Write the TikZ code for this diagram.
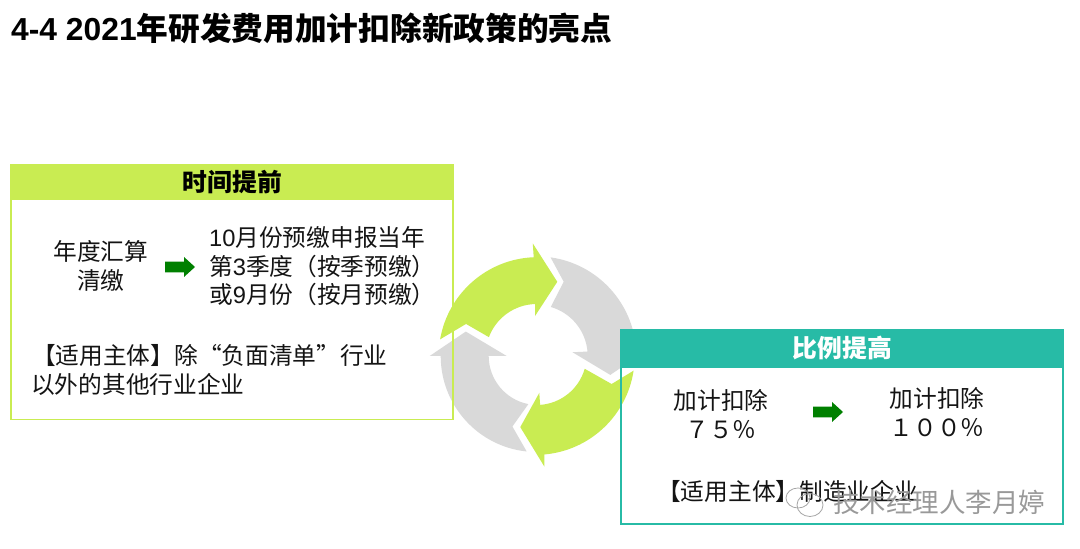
\documentclass[tikz,border=0pt]{standalone}
\usepackage{fontspec}
\setmainfont{Noto Sans CJK SC}
\newfontfamily\latinfont{Liberation Sans}
\usetikzlibrary{calc}
\definecolor{lime}{HTML}{C9EC52}
\definecolor{teal2}{HTML}{27BBA6}
\definecolor{gray2}{HTML}{D9D9D9}
\definecolor{arrowgreen}{HTML}{008000}
\tikzset{
  x=1pt,y=1pt,
  bodytext/.style={inner sep=0pt,font=\fontsize{23.7}{28.5}\selectfont,text=black!92},
  centertext/.style={bodytext,anchor=center,align=center},
  lefttext/.style={bodytext,anchor=west,align=left},
  headtext/.style={inner sep=0pt,anchor=center,font=\fontsize{24.8}{29}\selectfont\bfseries},
  limeframe/.style={draw=lime,line width=1.4pt},
  tealframe/.style={draw=teal2,line width=1.3pt},
  smallarrow/.style={fill=arrowgreen,draw=none},
  watermark/.style={inner sep=0pt,anchor=west,text=black!40,font=\fontsize{26.5}{30}\selectfont},
}
\begin{document}
\begin{tikzpicture}
\useasboundingbox (0,0) rectangle (1080,549);
\fill[white] (0,0) rectangle (1080,549);
% title
\node[inner sep=0pt,anchor=west] (title) at (11,520.5) {\bfseries{\fontsize{31.8}{34}\selectfont\latinfont 4-4 2021}\fontsize{31.7}{34}\selectfont 年研发费用加计扣除新政策的亮点};
% cycle
\begin{scope}[shift={(536.7,193)}]
  \fill[lime] (170.2:98) arc[start angle=170.2,end angle=92.3,radius=99] -- (92:112.7) -- (74.5:77) -- (92.4:40) -- (91.8:52) arc[start angle=91.8,end angle=159.5,radius=51] -- (155.6:77.6) -- cycle;
  \fill[lime] (-8.6:98) arc[start angle=-8.6,end angle=-85,radius=99] -- (-86:111) -- (-103:73) -- (-86:37) -- (-86:49) arc[start angle=-86,end angle=-16,radius=50] -- (-20.5:80) -- cycle;
  \fill[gray2] (82:99.6) arc[start angle=82,end angle=3,radius=99.6] -- (3:110) -- (-14.4:76) -- (6:36) -- (5:51) arc[start angle=5,end angle=74,radius=51] -- (70:79) -- cycle;
  \fill[gray2] (264:96) arc[start angle=264,end angle=180,radius=96] -- (180:107) -- (161:75) -- (180:30) -- (180:48) arc[start angle=180,end angle=259,radius=49] -- (251:74.6) -- cycle;
\end{scope}
% left box
\draw[limeframe] (11,129.5) rectangle (453,384);
\fill[lime] (10.3,349) rectangle (453.7,384.7);
\node[headtext,text=black] (lefthead) at (232.5,366.5) {时间提前};
\node[centertext] (a1) at (101,283) {年度汇算\\清缴};
\fill[smallarrow] (165,276.7) -- (184,276.7) -- (184,272) -- (195,282) -- (184,292) -- (184,287.3) -- (165,287.3) -- cycle;
\node[lefttext] (a2) at (209,312) {{\latinfont 10}月份预缴申报当年};
\node[lefttext] (a3) at (209,283) {第{\latinfont 3}季度（按季预缴）};
\node[lefttext] (a4) at (209,255) {或{\latinfont 9}月份（按月预缴）};
\node[lefttext] (a5) at (32,194) {【适用主体】除“负面清单”行业};
\node[lefttext] (a6) at (31,165) {以外的其他行业企业};
% right box
\draw[tealframe] (621,25) rectangle (1063,219);
\fill[teal2] (620.3,181) rectangle (1063.7,219.7);
\node[headtext,text=white] (righthead) at (842.5,201) {比例提高};
\node[centertext] (b1) at (721,135) {加计扣除\\７５％};
\fill[smallarrow] (813,131.7) -- (832,131.7) -- (832,127) -- (843,137) -- (832,147) -- (832,142.3) -- (813,142.3) -- cycle;
\node[centertext] (b2) at (937,137) {加计扣除\\１００％};
\node[lefttext] (b3) at (657,58) {【适用主体】制造业企业};
% watermark
\draw[black!35,line width=0.8pt] (798,51) ellipse[x radius=12,y radius=10];
\draw[black!35,line width=0.8pt] (810,44) ellipse[x radius=13,y radius=11.5];
\node[watermark] (wm) at (833,47) {技术经理人李月婷};
\end{tikzpicture}
\end{document}
